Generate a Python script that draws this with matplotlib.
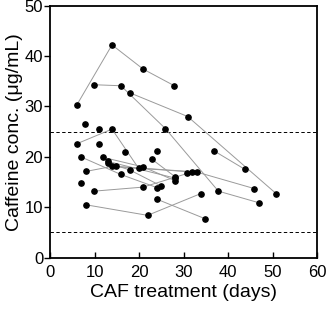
import matplotlib
matplotlib.use("Agg")
import matplotlib.pyplot as plt

plt.rcParams['font.family'] = ['Liberation Sans', 'DejaVu Sans']

# one list of (days, conc) per patient
pat_a = [(6.0, 30.3), (13.9, 42.2), (20.9, 37.4), (27.9, 34.1)]
pat_b = [(9.9, 34.3), (15.9, 34.1), (25.9, 25.6), (37.8, 13.2), (46.9, 10.9)]
pat_c = [(17.9, 32.7), (30.9, 28.0), (50.8, 12.7)]
pat_d = [(36.8, 21.2), (43.8, 17.5)]
pat_e = [(6.0, 22.6), (13.9, 25.5), (19.9, 17.7)]
pat_f = [(8.0, 10.5), (21.9, 8.4), (33.8, 12.7)]
pat_g = [(9.9, 13.2), (20.9, 14.0), (30.8, 16.7)]
pat_h = [(24.0, 11.6), (34.9, 7.7)]
pat_i = [(6.9, 20.0), (15.9, 16.5), (24.0, 13.9)]
pat_j = [(8.0, 17.1), (13.9, 18.1), (31.9, 17.0)]
pat_k = [(22.9, 19.5), (28.0, 16.1)]
pat_l = [(14.9, 18.1), (32.9, 17.0), (45.9, 13.7)]
pat_m = [(11.9, 19.9), (20.9, 18.0), (28.0, 15.3)]
pat_n = [(12.9, 19.1), (28.0, 15.8)]
pat_o = [(12.9, 18.8), (17.9, 17.4), (25.0, 14.2)]
single = [(7.9, 26.5), (11.0, 25.6), (11.0, 22.6), (16.9, 21.0), (6.9, 14.8), (24.0, 21.2)]

patients = [pat_a, pat_b, pat_c, pat_d, pat_e, pat_f, pat_g, pat_h,
            pat_i, pat_j, pat_k, pat_l, pat_m, pat_n, pat_o]

x_ticks = [0, 10, 20, 30, 40, 50, 60]
y_ticks = [0, 10, 20, 30, 40, 50]
limits_ref = [25, 5]

fig = plt.figure(figsize=(3.3, 3.09), dpi=100)
ax = fig.add_axes([0.152, 0.166, 0.809, 0.816])

for p in patients:
    xs = [v[0] for v in p]
    ys = [v[1] for v in p]
    ax.plot(xs, ys, color='#9a9a9a', lw=0.7, zorder=2)
    ax.plot(xs, ys, 'o', color='black', ms=3.8, zorder=3)
ax.plot([v[0] for v in single], [v[1] for v in single], 'o', color='black', ms=3.8, zorder=3)

for yl in limits_ref:
    ax.axhline(yl, color='black', lw=0.7, ls=(0, (3.5, 2.5)), zorder=1)

ax.set_xlim(0, 60)
ax.set_ylim(0, 50)
ax.set_xticks(x_ticks)
ax.set_yticks(y_ticks)
ax.tick_params(axis='x', direction='in', length=4, width=1, labelsize=12, pad=5)
ax.tick_params(axis='y', direction='out', length=4.5, width=1, labelsize=12, pad=0.5)
for s in ax.spines.values():
    s.set_linewidth(1.3)

ax.set_xlabel('CAF treatment (days)', fontsize=14, labelpad=3)
ax.set_ylabel('Caffeine conc. (μg/mL)', fontsize=14, labelpad=1)

fig.savefig('out.png', dpi=100)
